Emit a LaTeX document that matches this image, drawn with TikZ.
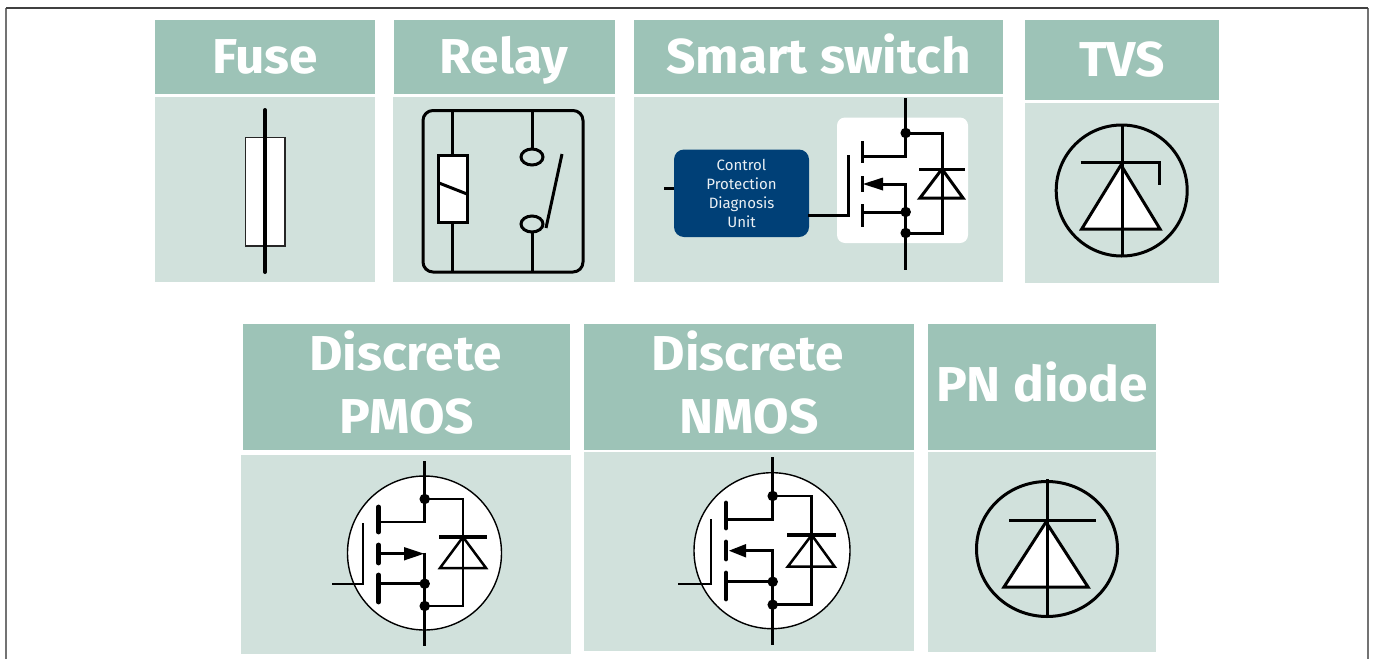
\documentclass[tikz,border=0pt]{standalone}
\usepackage{fontspec}
\setmainfont{Fira Sans}
\newfontfamily\titlefont{Fira Sans}[FakeStretch=1.05]
\definecolor{hdr}{HTML}{9DC3B7}
\definecolor{bdy}{HTML}{D1E1DC}
\definecolor{ctl}{HTML}{004077}
\tikzset{
 x=1pt,y=-1pt,
 title/.style={text=white,font=\titlefont\fontsize{49}{49}\selectfont\bfseries,anchor=base,inner sep=0pt},
 ctltext/.style={text=white!92!ctl,font=\fontsize{15}{15}\selectfont,anchor=base,inner sep=0pt},
 wire/.style={line width=3pt,black,line cap=butt,line join=miter},
 tw/.style={line width=2.5pt,black,line join=miter},
 bar/.style={line width=4.8pt,black,line cap=round},
 dot/.style={circle,fill=black,inner sep=0pt,minimum size=10.5pt},
}
\begin{document}
\begin{tikzpicture}
\useasboundingbox (0,0) rectangle (1373,659);
\fill[white] (0,0) rectangle (1373,659);
% frame
\draw[line width=2pt,black!55] (6,659) -- (6,8) (1367.5,8) -- (1367.5,659);
\draw[line width=1.2pt,black!75] (6,8) -- (1367.5,8);
% panels
\fill[hdr] (155,20) rectangle (375,94);
\fill[bdy] (155,97) rectangle (375,282);
\fill[hdr] (394,20) rectangle (615,94);
\fill[bdy] (393,97) rectangle (615,282);
\fill[hdr] (634,20) rectangle (1003,94);
\fill[bdy] (634,97) rectangle (1003,282);
\fill[hdr] (1025,20) rectangle (1219,100);
\fill[bdy] (1025,103) rectangle (1219,283);
\fill[hdr] (243,324) rectangle (570,450);
\fill[bdy] (241,455) rectangle (571,654);
\fill[hdr] (584,324) rectangle (914,450);
\fill[bdy] (584,452) rectangle (914,651);
\fill[hdr] (928,324) rectangle (1156,450);
\fill[bdy] (928,452) rectangle (1156,652);
% titles
\node[title] (tfuse) at (265,73) {Fuse};
\node[title] (trelay) at (504,73) {Relay};
\node[title] (tsmart) at (818.5,73) {Smart switch};
\node[title] (ttvs) at (1122,76) {TVS};
\node[title] (td1) at (405.5,370) {Discrete};
\node[title] (tp) at (407,433) {PMOS};
\node[title] (td2) at (748,370) {Discrete};
\node[title] (tn) at (749,433) {NMOS};
\node[title] (tpn) at (1042,401) {PN diode};
% fuse
\draw[fill=white,line width=1.2pt,draw=black!85] (245.5,137.5) rectangle (285,246);
\draw[line width=4pt,black,line cap=round] (265,110) -- (265,272);
% relay
\draw[line width=3pt,rounded corners=10pt] (423,110.5) rectangle (583,272);
\draw[wire] (452.7,110) -- (452.7,155) (452.7,222) -- (452.7,272);
\draw[wire,fill=white] (438.5,155) rectangle (467.5,222);
\draw[wire] (439,183) -- (467,194);
\draw[wire] (532,110) -- (532,149) (532,232) -- (532,272);
\draw[wire] (532,157) ellipse [x radius=11,y radius=8];
\draw[wire] (532,224) ellipse [x radius=11,y radius=8];
\draw[wire] (562,154) -- (546,228);
% smart switch
\draw[wire] (664,188) -- (675,188);
\fill[ctl,rounded corners=10pt] (674,149.5) rectangle (809,237);
\node[ctltext] (c1) at (741.5,170) {Control};
\node[ctltext] (c2) at (741.5,189) {Protection};
\node[ctltext] (c3) at (741.5,208) {Diagnosis};
\node[ctltext] (c4) at (741.5,227) {Unit};
\fill[white,rounded corners=8pt] (837,117.5) rectangle (968,243);
\draw[wire] (808,215) -- (848,215) -- (848,155);
\draw[wire] (862,141) -- (862,163) (862,176) -- (862,192) (862,204) -- (862,227);
\draw[wire] (905.7,98) -- (905.7,156) -- (862,156);
\draw[wire] (905.7,133) -- (942,133) -- (942,233) -- (905.7,233);
\draw[wire] (875,184) -- (905.7,184) -- (905.7,270);
\draw[wire] (862,212) -- (905.7,212);
\fill (863,184) -- (883,177.5) -- (883,190.5) -- cycle;
\draw[wire] (919,169) -- (965,169);
\draw[wire] (942,169) -- (920,198) -- (963,198) -- cycle;
\node[dot] (s1) at (905.7,133) {};
\node[dot] (s2) at (905.7,212) {};
\node[dot] (s3) at (905.7,233) {};
% TVS
\draw[line width=3pt] (1121.7,190.5) circle [radius=65.5];
\draw[wire,fill=white] (1121,165) -- (1081.7,229) -- (1160,229) -- cycle;
\draw[wire] (1122,125) -- (1122,256);
\draw[wire] (1080.7,162.5) -- (1159.5,162.5) -- (1159.5,185);
% PMOS
\draw[line width=1.4pt,fill=white] (424.5,553) circle [radius=77];
\draw[bar] (378.7,507) -- (378.7,532) (378.7,545) -- (378.7,563) (378.7,575) -- (378.7,602);
\draw[tw] (424.7,461) -- (424.7,522) -- (378.7,522);
\draw[tw] (424.7,499) -- (463,499) -- (463,606) -- (424.7,606);
\draw[tw] (378.7,553.7) -- (405,553.7);
\draw[tw] (424.7,552.5) -- (424.7,646);
\draw[tw] (378.7,583.7) -- (424.7,583.7);
\fill (424,553.7) -- (404,547) -- (404,560.5) -- cycle;
\draw[tw] (332,584) -- (363,584) -- (363,522.7);
\draw[line width=3.8pt] (439,537) -- (487,537);
\draw[tw] (463,537) -- (440,568) -- (486,568) -- cycle;
\node[dot] (p1) at (424.7,499) {};
\node[dot] (p2) at (424.7,583.7) {};
\node[dot] (p3) at (424.7,606) {};
% NMOS
\draw[line width=1.4pt,fill=white] (772,550.7) circle [radius=78];
\draw[bar] (726,503) -- (726,528) (726,542) -- (726,559) (726,573) -- (726,599);
\draw[tw] (772.7,457) -- (772.7,519.7) -- (726,519.7);
\draw[tw] (772.7,496) -- (811.7,496) -- (811.7,604.7) -- (772.7,604.7);
\draw[tw] (746,550.7) -- (772.7,550.7) -- (772.7,645);
\draw[tw] (726,581.7) -- (772.7,581.7);
\fill (729,550.7) -- (746,544) -- (746,557.5) -- cycle;
\draw[tw] (678,584) -- (711,584) -- (711,519);
\draw[line width=3.8pt] (787,535) -- (836,535);
\draw[tw] (811.7,535) -- (787.7,566.7) -- (834.7,566.7) -- cycle;
\node[dot] (n1) at (772.7,496) {};
\node[dot] (n2) at (772.7,581.7) {};
\node[dot] (n3) at (772.7,604.7) {};
% PN diode
\draw[line width=3pt] (1047,549) ellipse [x radius=70.5,y radius=67.5];
\draw[wire,fill=white] (1046,522) -- (1004,587) -- (1088,587) -- cycle;
\draw[wire] (1047,479) -- (1047,617);
\draw[wire] (1009,520.7) -- (1095.7,520.7);
\end{tikzpicture}
\end{document}
